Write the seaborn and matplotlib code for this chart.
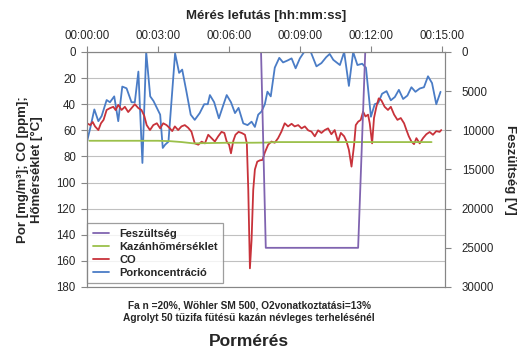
import pandas as pd
import seaborn as sns
import matplotlib.pyplot as plt
from matplotlib.lines import Line2D

# time axis in minutes
por_min = [0.00, 0.14, 0.31, 0.48, 0.62, 0.83, 0.97, 1.15, 1.32, 1.49, 1.67, 1.88, 2.02,
           2.17, 2.24, 2.34, 2.50, 2.67, 2.81, 2.95, 3.09, 3.20, 3.30, 3.44, 3.72, 3.89,
           4.02, 4.20, 4.38, 4.55, 4.76, 4.95, 5.10, 5.19, 5.37, 5.57, 5.75, 5.90, 6.08,
           6.25, 6.40, 6.60, 6.78, 6.95, 7.09, 7.23, 7.37, 7.51, 7.62, 7.76, 7.93, 8.12,
           8.28, 8.47, 8.64, 8.81, 8.99, 9.17, 9.45, 9.69, 9.90, 10.10, 10.25, 10.40, 10.68,
           10.86, 11.06, 11.24, 11.42, 11.62, 11.78, 11.99, 12.15, 12.30, 12.46, 12.65,
           12.83, 13.00, 13.17, 13.35, 13.53, 13.70, 13.87, 14.05, 14.23, 14.40, 14.57,
           14.75, 14.93]
por_val = [68.7, 58, 44, 53, 49, 36.8, 38.5, 34, 53, 26.5, 27.8, 38.5, 38.5,
           15, 44, 85, 0, 34, 37.6, 42.8, 48, 73.5, 71, 68.7, 1, 16,
           13.5, 30.4, 48, 52, 46.8, 40, 40, 33, 38.5, 50.8, 41, 33, 38.5,
           46.8, 42.8, 54.7, 56, 53.4, 57.4, 48, 45.6, 40, 30.4, 34, 12, 4.5,
           8, 6.5, 4.9, 12.5, 4.9, 0, 0, 11, 8.5, 4, 1.5, 6, 10,
           0, 26, 0, 10, 9, 12, 49.6, 40, 39, 32, 30,
           37, 34.5, 29, 36, 33.4, 27, 30.5, 28, 27, 18.6, 23.8,
           40, 30.5]

co_min = [0.00, 0.14, 0.24, 0.34, 0.48, 0.59, 0.70, 0.83, 0.97, 1.11, 1.21, 1.32, 1.46,
          1.60, 1.74, 1.88, 2.02, 2.17, 2.30, 2.42, 2.52, 2.66, 2.80, 2.95, 3.09, 3.22,
          3.36, 3.50, 3.60, 3.71, 3.85, 3.99, 4.13, 4.27, 4.41, 4.55, 4.70, 4.84, 4.98,
          5.12, 5.26, 5.40, 5.54, 5.68, 5.80, 5.90, 6.00, 6.08, 6.18, 6.27, 6.40, 6.53,
          6.67, 6.75, 6.81, 6.88, 6.95, 7.02, 7.09, 7.19, 7.30, 7.41, 7.51, 7.65, 7.79,
          7.93, 8.07, 8.21, 8.35, 8.49, 8.64, 8.77, 8.92, 9.06, 9.20, 9.34, 9.48, 9.62,
          9.76, 9.90, 10.04, 10.18, 10.32, 10.46, 10.60, 10.72, 10.86, 10.96, 11.06,
          11.17, 11.28, 11.35, 11.45, 11.56, 11.66, 11.76, 11.87, 11.94, 12.04, 12.12,
          12.22, 12.32, 12.43, 12.57, 12.71, 12.83, 12.97, 13.11, 13.25, 13.39, 13.49,
          13.59, 13.70, 13.81, 13.91, 14.05, 14.19, 14.33, 14.47, 14.61, 14.75, 14.89,
          14.96]
co_val = [54.6, 56, 53.6, 57, 59.8, 54.6, 52, 44.4, 43, 42, 44.5, 40.5, 44.4,
          42, 46, 43, 40, 43, 44.4, 49, 56, 59.8, 56, 54.6, 58.5, 54.6,
          56, 58.5, 60.6, 57, 59.8, 57, 56, 58, 61, 70, 71, 68.7, 70,
          63.4, 66, 68.6, 64.6, 61.2, 62, 68.6, 71, 77.6, 68, 63.4, 61.2, 62,
          63.4, 70, 105, 165.7, 144, 105.7, 90, 84, 83, 82.7, 77, 71, 68.6,
          69.5, 66, 61, 54.6, 57, 55, 57, 56, 58.5, 57, 60, 61, 64.6,
          60, 62, 59.8, 58.5, 63, 59.8, 68.6, 62, 64.6, 68.6, 75,
          87.8, 71, 56, 53.4, 52, 45.7, 49.4, 48, 54.6, 70, 50.6,
          42, 35.5, 37, 42, 44.4, 42, 48, 52, 50.6, 54.6, 59.8,
          64.6, 68.6, 70.6, 66, 70, 66, 63, 61.3, 63.4, 60.6, 61.2,
          59.8]

temp_min = [0.1, 1, 2, 3, 3.5, 4, 4.5, 5, 6, 7, 7.5, 8, 9, 10, 11, 12, 13, 14, 14.55]
temp_val = [68, 68, 68, 68, 68.3, 69, 70, 69.8, 69.5, 69.5, 69.4, 69, 69, 69, 69, 69, 69, 69, 69]

volt_min = [0, 7.35, 7.55, 11.45, 11.75, 15.0]
volt_val = [0, 0, 25000, 25000, 0, 0]

x_ticks = [0, 3, 6, 9, 12, 15]
x_tick_labels = ["00:00:00", "00:03:00", "00:06:00", "00:09:00", "00:12:00", "00:15:00"]

c_por = "#4A7CC6"
c_co = "#C8323A"
c_temp = "#9BC04A"
c_volt = "#8064B0"
c_axis = "#868686"

sns.set_theme(style="white")
plt.rcParams["font.family"] = ["Liberation Sans", "DejaVu Sans"]
plt.rcParams["font.size"] = 8

fig = plt.figure(figsize=(5.25, 3.6), dpi=100)
ax = fig.add_axes([0.1657, 0.2028, 0.682, 0.6528])
ax2 = ax.twinx()

df_por = pd.DataFrame({"perc": por_min, "ertek": por_val})
df_co = pd.DataFrame({"perc": co_min, "ertek": co_val})
df_temp = pd.DataFrame({"perc": temp_min, "ertek": temp_val})
df_volt = pd.DataFrame({"perc": volt_min, "ertek": volt_val})

sns.lineplot(data=df_por, x="perc", y="ertek", color=c_por, lw=1.3, sort=False, estimator=None, ax=ax)
sns.lineplot(data=df_co, x="perc", y="ertek", color=c_co, lw=1.3, sort=False, estimator=None, ax=ax)
sns.lineplot(data=df_temp, x="perc", y="ertek", color=c_temp, lw=1.3, sort=False, estimator=None, ax=ax)
sns.lineplot(data=df_volt, x="perc", y="ertek", color=c_volt, lw=1.3, sort=False, estimator=None, ax=ax2)

# upside-down layout like the reference
ax.set_xlim(0, 15.12)
ax.set_ylim(180, 0)
ax2.set_ylim(30000, 0)
ax.set_yticks(range(0, 181, 20))
ax2.set_yticks(range(0, 30001, 5000))
ax.set_xticks(x_ticks)
ax.set_xticklabels(x_tick_labels)

ax.yaxis.grid(True, color="#C0C0C0", lw=0.8)
ax.xaxis.grid(False)
ax.xaxis.tick_top()
ax.xaxis.set_label_position("top")
ax.tick_params(axis="x", top=True, bottom=False, direction="out", length=4, width=0.8,
               color=c_axis, pad=3, labelsize=8.3)
ax.tick_params(axis="y", left=True, direction="out", length=4, width=0.8, color=c_axis,
               pad=4, labelsize=8.3)
ax2.tick_params(axis="y", right=True, direction="out", length=4, width=0.8, color=c_axis,
                pad=8, labelsize=8.3)
for a in (ax, ax2):
    for s in a.spines.values():
        s.set_color(c_axis)
        s.set_linewidth(0.8)
ax.spines["bottom"].set_color("#C0C0C0")

ax.set_xlabel("Mérés lefutás [hh:mm:ss]", fontsize=9.5, fontweight="bold", labelpad=8)
ax.set_ylabel("")
ax2.set_ylabel("")

fig.text(30 / 525, 0.529, "Por [mg/m³]; CO [ppm];\nHőmérséklet [°C]", rotation=90,
         ha="center", va="center", fontsize=9.5, fontweight="bold", linespacing=1.2)
fig.text(510 / 525, 0.529, "Feszültség [V]", rotation=270,
         ha="center", va="center", fontsize=9.5, fontweight="bold")

fig.text(249 / 525, 1 - 305 / 360, "Fa n =20%, Wöhler SM 500, O2vonatkoztatási=13%",
         ha="center", va="center", fontsize=7.3, fontweight="bold")
fig.text(249 / 525, 1 - 318 / 360, "Agrolyt 50 tűzifa fűtésű kazán névleges terhelésénél",
         ha="center", va="center", fontsize=7.3, fontweight="bold")
fig.text(249 / 525, 1 - 341 / 360, "Pormérés",
         ha="center", va="center", fontsize=12.5, fontweight="bold")

handles = [Line2D([], [], color=c_volt, lw=1.3),
           Line2D([], [], color=c_temp, lw=1.3),
           Line2D([], [], color=c_co, lw=1.3),
           Line2D([], [], color=c_por, lw=1.3)]
labels = ["Feszültség", "Kazánhőmérséklet", "CO", "Porkoncentráció"]
leg = ax.legend(handles, labels, loc="lower left", bbox_to_anchor=(0.0, 0.015),
                prop={"size": 8, "weight": "bold"}, frameon=True, fancybox=False,
                handlelength=1.5, handletextpad=0.9, labelspacing=0.28,
                borderpad=0.5, borderaxespad=0.0)
leg.get_frame().set_edgecolor(c_axis)
leg.get_frame().set_linewidth(0.9)
leg.set_zorder(5)

fig.savefig("out.png", dpi=100)
